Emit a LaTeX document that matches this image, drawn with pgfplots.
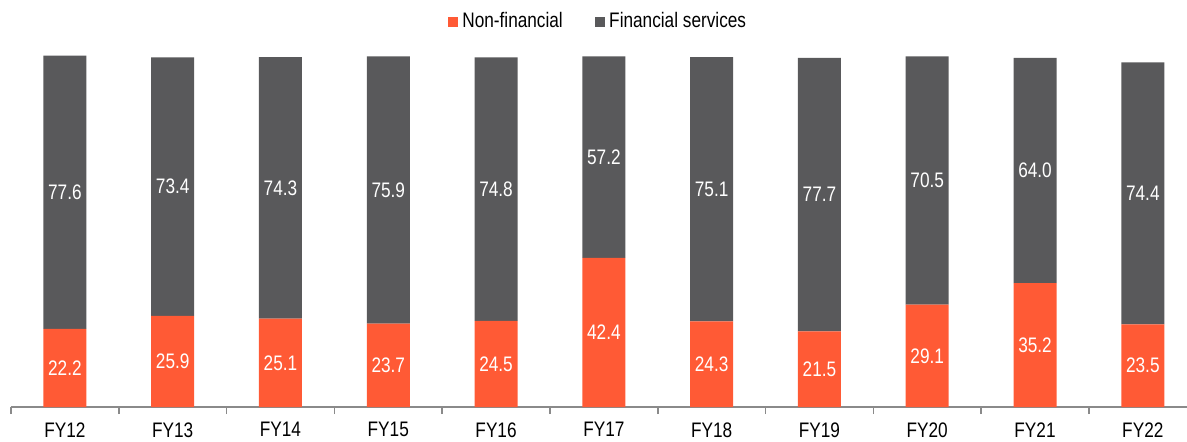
\documentclass[border=0pt]{standalone}
\usepackage{fontspec}
\setmainfont{Liberation Sans}[FakeStretch=0.82]
\usepackage{pgfplots}
\usepackage{pgfplotstable}
\pgfplotsset{compat=1.18}
\definecolor{nonfin}{HTML}{FF5A35}
\definecolor{finserv}{HTML}{59595B}
\definecolor{axisgray}{HTML}{8A8A8A}

\pgfplotstableread{
x  nf    fs
0  22.2  77.6
1  25.9  73.4
2  25.1  74.3
3  23.7  75.9
4  24.5  74.8
5  42.4  57.2
6  24.3  75.1
7  21.5  77.7
8  29.1  70.5
9  35.2  64.0
10 23.5  74.4
}\shares

\begin{document}
\fontsize{10.5pt}{12pt}\selectfont
\begin{tikzpicture}
\useasboundingbox (-5.5pt,-17pt) rectangle (588pt,203.5pt);
\begin{axis}[
    at={(0pt,0pt)}, anchor=south west,
    scale only axis,
    width=588pt, height=176pt,
    ybar stacked,
    bar width=21.5pt,
    xmin=-0.5, xmax=10.41,
    ymin=0, ymax=100,
    axis y line=none,
    axis x line*=bottom,
    x axis line style={draw=axisgray, line width=0.8pt},
    xtick={0,...,10},
    xticklabels={FY12,FY13,FY14,FY15,FY16,FY17,FY18,FY19,FY20,FY21,FY22},
    major tick length=0pt,
    minor xtick={-0.5,0.5,...,9.5},
    minor tick length=3.5pt,
    tick align=outside,
    minor x tick style={draw=axisgray, line width=0.8pt},
    xticklabel style={yshift=-4pt, font=\fontsize{10.5pt}{12pt}\selectfont},
    nodes near coords,
    point meta=explicit,
    every node near coord/.append style={white, anchor=center,
        font=\fontsize{10.5pt}{12pt}\selectfont,
        /pgf/number format/.cd, fixed, fixed zerofill, precision=1,
        assume math mode=true},
    legend style={at={(0.5,1.094)}, anchor=center, draw=none, fill=none,
        legend columns=-1, font=\fontsize{10.5pt}{12pt}\selectfont,
        /tikz/every even column/.append style={column sep=14pt}},
    legend image code/.code={\fill[#1] (0pt,-2.6pt) rectangle (5.2pt,2.6pt);},
    clip=false,
]
\addplot[draw=none, fill=nonfin] table[x=x, y=nf, meta=nf] {\shares};
\addplot[draw=none, fill=finserv] table[x=x, y=fs, meta=fs] {\shares};
\legend{Non-financial, Financial services}
\end{axis}
\end{tikzpicture}
\end{document}
